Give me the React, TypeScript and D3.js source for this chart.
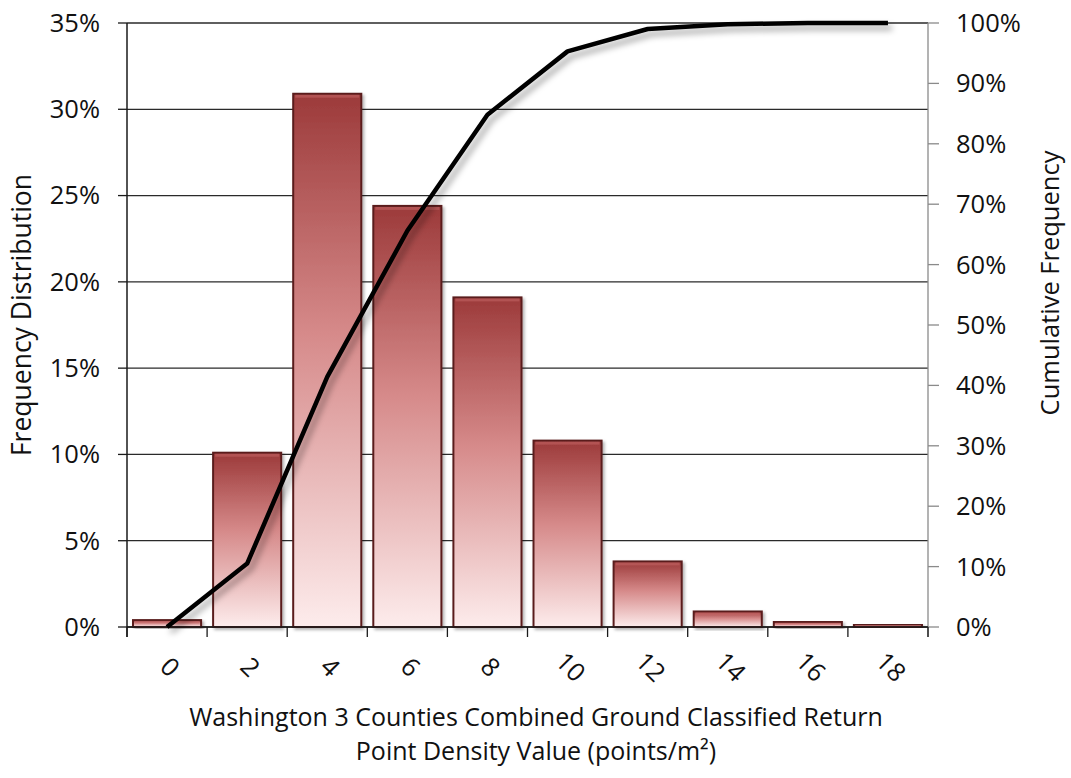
import React from "react";
import * as d3 from "d3";

const categories = ["0", "2", "4", "6", "8", "10", "12", "14", "16", "18"];
const frequency = [0.004, 0.101, 0.309, 0.244, 0.191, 0.108, 0.038, 0.009, 0.003, 0.0015];
const cumulative = [0.0, 0.105, 0.414, 0.656, 0.848, 0.953, 0.99, 0.998, 1.0, 1.0];
const leftTicks = [0, 0.05, 0.1, 0.15, 0.2, 0.25, 0.3, 0.35];
const rightTicks = [0, 0.1, 0.2, 0.3, 0.4, 0.5, 0.6, 0.7, 0.8, 0.9, 1.0];
const xTitle = ["Washington 3 Counties Combined Ground Classified Return", "Point Density Value (points/m²)"];
const yTitleLeft = "Frequency Distribution";
const yTitleRight = "Cumulative Frequency";

const W = 1071, H = 778;
const M = { left: 127, right: 928, top: 23, bottom: 627 };
const FONT = "'Open Sans', 'Liberation Sans', sans-serif";
const FS = 25.5;

export default function App() {
  const x = d3.scaleBand<string>().domain(categories).range([M.left, M.right]).paddingInner(0.15).paddingOuter(0.075);
  const xOuter = d3.scaleBand<string>().domain(categories).range([M.left, M.right]).padding(0);
  const yL = d3.scaleLinear().domain([0, 0.35]).range([M.bottom, M.top]);
  const yR = d3.scaleLinear().domain([0, 1]).range([M.bottom, M.top]);
  const pct = d3.format(".0%");
  const line = d3.line<number>()
    .x((_, i) => (xOuter(categories[i]) as number) + xOuter.bandwidth() / 2)
    .y((d) => yR(d));
  const tickEdges = categories.map((c) => xOuter(c) as number).concat([M.right]);

  return (
    <svg width={W} height={H} style={{ position: "absolute", left: 0, top: 0, background: "#fff" }} fontFamily={FONT}>
      <defs>
        <linearGradient id="barGrad" x1="0" y1="0" x2="0" y2="1">
          <stop offset="0" stopColor="#9c3a3a" />
          <stop offset="0.45" stopColor="#d68a8a" />
          <stop offset="1" stopColor="#fdecec" />
        </linearGradient>
        <filter id="lineShadow" x="-10%" y="-10%" width="130%" height="130%">
          <feDropShadow dx="4" dy="5" stdDeviation="3" floodColor="#000" floodOpacity="0.35" />
        </filter>
        <filter id="barShadow" x="-10%" y="-10%" width="130%" height="130%">
          <feDropShadow dx="2" dy="2" stdDeviation="1.5" floodColor="#000" floodOpacity="0.3" />
        </filter>
      </defs>
      <rect x={0} y={0} width={W} height={H} fill="#fff" />

      {/* gridlines */}
      {leftTicks.map((t) => (
        <line key={"g" + t} x1={M.left} x2={M.right} y1={yL(t)} y2={yL(t)} stroke="#2a2a2a" strokeWidth={1.3} />
      ))}

      {/* bars */}
      {frequency.map((v, i) => {
        const x0 = x(categories[i]) as number;
        const y0 = yL(v);
        const h = Math.max(M.bottom - y0, 1.5);
        return (
          <g key={"b" + i} filter="url(#barShadow)">
            <rect x={x0} y={M.bottom - h} width={x.bandwidth()} height={h} fill="url(#barGrad)" stroke="#5a1e1e" strokeWidth={2} />
            <rect x={x0 + 2} y={M.bottom - h + 1} width={x.bandwidth() - 4} height={Math.min(3, h / 3)} fill="#c76a6a" opacity={0.5} />
          </g>
        );
      })}

      {/* left axis */}
      <line x1={M.left} x2={M.left} y1={M.top} y2={M.bottom + 10} stroke="#1a1a1a" strokeWidth={1.5} />
      {leftTicks.map((t) => (
        <g key={"l" + t}>
          <line x1={M.left - 9} x2={M.left} y1={yL(t)} y2={yL(t)} stroke="#1a1a1a" strokeWidth={1.3} />
          <text x={M.left - 27} y={yL(t)} dy="0.35em" textAnchor="end" fontSize={FS} fill="#111">{pct(t)}</text>
        </g>
      ))}

      {/* right axis */}
      <line x1={M.right} x2={M.right} y1={M.top} y2={M.bottom + 10} stroke="#8a8a8a" strokeWidth={1.3} />
      {rightTicks.map((t) => (
        <g key={"r" + t}>
          <line x1={M.right} x2={M.right + 11} y1={yR(t)} y2={yR(t)} stroke="#8a8a8a" strokeWidth={1.3} />
          <text x={M.right + 28} y={yR(t)} dy="0.35em" textAnchor="start" fontSize={FS} fill="#111">{pct(t)}</text>
        </g>
      ))}

      {/* x axis */}
      <line x1={M.left} x2={M.right} y1={M.bottom} y2={M.bottom} stroke="#1a1a1a" strokeWidth={1.5} />
      {tickEdges.map((e, i) => (
        <line key={"xt" + i} x1={e} x2={e} y1={M.bottom} y2={M.bottom + 10} stroke="#1a1a1a" strokeWidth={1.3} />
      ))}
      {categories.map((c) => {
        const cx = (xOuter(c) as number) + xOuter.bandwidth() / 2 + 3;
        const cy = 667;
        return (
          <text key={"xl" + c} x={cx} y={cy} transform={`rotate(45 ${cx} ${cy})`} textAnchor="middle" dy="0.35em" fontSize={FS} fill="#111">{c}</text>
        );
      })}

      {/* cumulative line */}
      <path d={line(cumulative) as string} fill="none" stroke="#000" strokeWidth={4.5} strokeLinejoin="round" filter="url(#lineShadow)" />

      {/* titles */}
      {xTitle.map((t, i) => (
        <text key={"xt" + i} x={536} y={717 + i * 34.5} dy="0.35em" textAnchor="middle" fontSize={25} fill="#111">{t}</text>
      ))}
      <text transform={`translate(22 ${315}) rotate(-90)`} textAnchor="middle" dy="0.35em" fontSize={FS + 1} fill="#111">{yTitleLeft}</text>
      <text transform={`translate(1050 ${283}) rotate(-90)`} textAnchor="middle" dy="0.35em" fontSize={FS} fill="#111">{yTitleRight}</text>
    </svg>
  );
}
